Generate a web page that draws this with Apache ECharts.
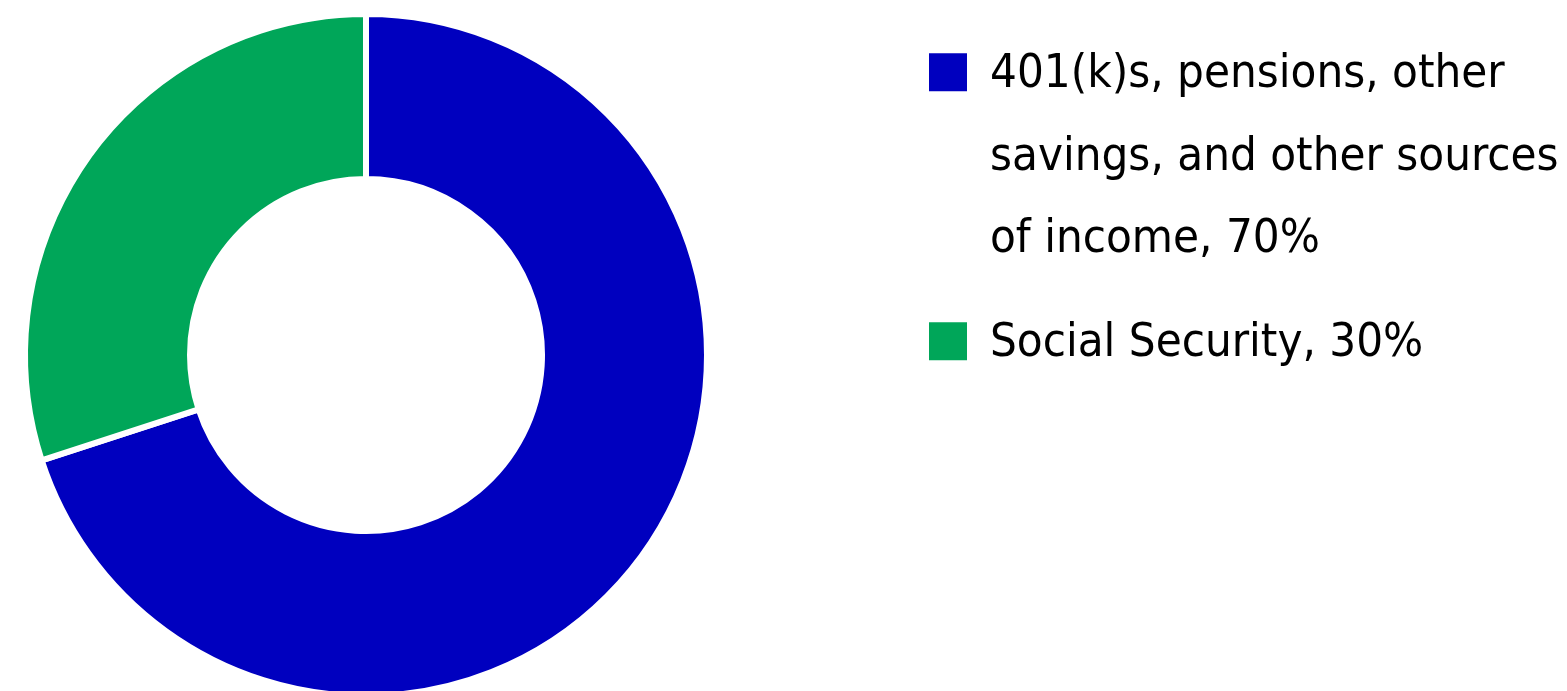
<!DOCTYPE html>
<html>
<head>
<meta charset="utf-8">
<style>
html,body{margin:0;padding:0;background:#fff;}
#chart{width:1567px;height:691px;}
</style>
<script src="https://cdn.jsdelivr.net/npm/echarts@6/dist/echarts.min.js"></script>
</head>
<body>
<div id="chart"></div>
<script>
const categories = ["401(k)s, pensions, other savings, and other sources of income", "Social Security"];
const values = [70, 30];
const legendLines = [
  ["401(k)s, pensions, other", "savings, and other sources", "of income, 70%"],
  ["Social Security, 30%"]
];
const colors = ["#0000BF", "#00A659"];

const chart = echarts.init(document.getElementById('chart'), null, {renderer: 'canvas'});
const labelMap = {};
categories.forEach((c, i) => {
  const lines = legendLines[i];
  const pad = new Array(lines.length - 1).fill('\n').join('');
  labelMap[c] = '{s| }\n' + pad + lines.join('\n');
});

chart.setOption({
  animation: false,
  color: colors,
  legend: {
    orient: 'vertical',
    left: 927,
    top: -137,
    padding: 0,
    itemWidth: 40,
    itemHeight: 40,
    itemGap: 15.5,
    icon: 'rect',
    selectedMode: false,
    formatter: name => labelMap[name],
    textStyle: {
      fontFamily: '"DejaVu Sans Condensed", sans-serif',
      fontSize: 47,
      fontWeight: 'normal',
      lineHeight: 82.5,
      color: '#000',
      padding: [0, 0, 0, 17],
      rich: {
        s: {fontSize: 4, lineHeight: 6, height: 6}
      }
    },
    data: categories
  },
  series: [{
    type: 'pie',
    center: [366, 355],
    radius: [176, 341],
    startAngle: 90,
    clockwise: true,
    label: {show: false},
    labelLine: {show: false},
    emphasis: {disabled: true},
    itemStyle: {borderColor: '#fff', borderWidth: 6},
    data: categories.map((c, i) => ({name: c, value: values[i]}))
  }]
});
</script>
</body>
</html>
